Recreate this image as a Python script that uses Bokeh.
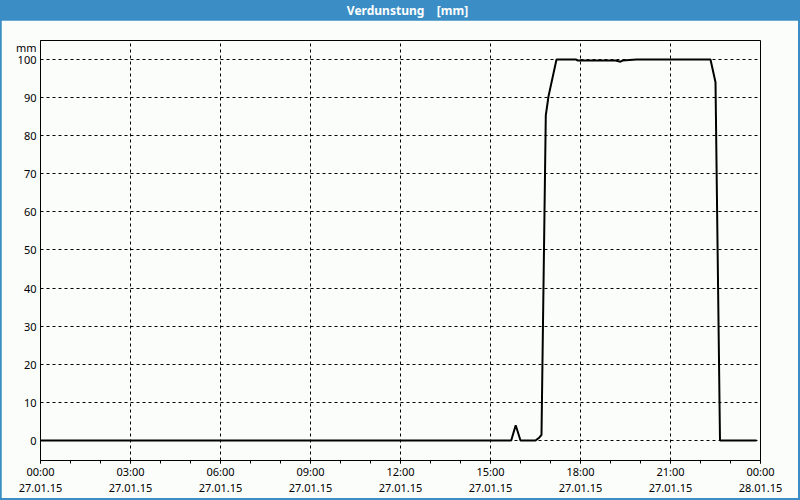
from bokeh.plotting import figure
from bokeh.models import FixedTicker, Range1d
from bokeh.layouts import column
from bokeh.core.properties import value
from bokeh.embed import file_html
from bokeh.resources import INLINE

# ---- data ----
hours = [0, 15.69, 15.84, 16.0, 16.5, 16.63, 16.7, 16.843, 16.933, 17.2,
         17.857, 17.9, 19.167, 19.333, 19.4, 19.867, 22.333, 22.5, 22.65, 23.867]
values = [0, 0, 4.0, 0, 0, 0.8, 1.5, 85.3, 90.3, 100,
          100, 99.7, 99.7, 99.4, 99.7, 100, 100, 94, 0, 0]

x_ticks = [0, 3, 6, 9, 12, 15, 18, 21, 24]
x_tick_labels = ["00:00\n27.01.15", "03:00\n27.01.15", "06:00\n27.01.15",
                 "09:00\n27.01.15", "12:00\n27.01.15", "15:00\n27.01.15",
                 "18:00\n27.01.15", "21:00\n27.01.15", "00:00\n28.01.15"]
y_ticks = [0, 10, 20, 30, 40, 50, 60, 70, 80, 90, 100]
unit_tick = 103.1
title_text = "Verdunstung\u00a0\u00a0\u00a0\u00a0[mm]"
unit_text = "mm"

BLUE = "#3b8ec5"
BG = "#fbfdfb"
FONT = "Noto Sans"

# ---- title bar ----
t = figure(width=800, height=20, output_backend="svg", toolbar_location=None,
           x_range=Range1d(0, 1), y_range=Range1d(0, 1),
           x_axis_type=None, y_axis_type=None, min_border=0)
t.background_fill_color = BLUE
t.border_fill_color = BLUE
t.outline_line_color = None
t.grid.visible = False
t.text(x=[0.509], y=[0.5], text=[title_text], text_font=value(FONT),
       text_font_size="12px", text_font_style="bold", text_color="white",
       text_align="center", text_baseline="middle")

# ---- main chart ----
p = figure(width=797, height=478, output_backend="svg", toolbar_location=None,
           x_range=Range1d(0, 24), y_range=Range1d(-5.24, 104.97),
           min_border_left=39, min_border_right=38, min_border_top=20,
           min_border_bottom=37, margin=(0, 2, 2, 1))
p.background_fill_color = BG
p.border_fill_color = BG
p.outline_line_color = "black"
p.outline_line_width = 1

p.line(hours, values, line_color="black", line_width=2)

xa = p.xaxis[0]
xa.ticker = FixedTicker(ticks=x_ticks, minor_ticks=list(range(0, 25)))
xa.major_label_overrides = {tk: lb for tk, lb in zip(x_ticks, x_tick_labels)}
xa.major_tick_out = 3
xa.major_tick_in = 0
xa.minor_tick_out = 3
xa.minor_tick_in = 0
xa.major_tick_line_color = "black"
xa.minor_tick_line_color = "black"
xa.axis_line_color = "black"
xa.major_label_text_font = FONT
xa.major_label_text_font_size = "11px"
xa.major_label_text_color = "black"
xa.major_label_text_line_height = 1.1
xa.major_label_standoff = 0

ya = p.yaxis[0]
ya.ticker = FixedTicker(ticks=y_ticks + [unit_tick])
ya.major_label_overrides = {unit_tick: unit_text}
ya.major_tick_out = 0
ya.major_tick_in = 0
ya.minor_tick_line_color = None
ya.axis_line_color = "black"
ya.major_label_text_font = FONT
ya.major_label_text_font_size = "11px"
ya.major_label_text_color = "black"
ya.major_label_standoff = 4

p.xgrid[0].ticker = FixedTicker(ticks=x_ticks)
p.ygrid[0].ticker = FixedTicker(ticks=y_ticks)
for g in (p.xgrid[0], p.ygrid[0]):
    g.grid_line_color = "black"
    g.grid_line_dash = "3 3"
    g.grid_line_width = 1

layout = column(t, p, spacing=0, styles={"background-color": BLUE})

open("out.html", "w").write(file_html(layout, INLINE))
